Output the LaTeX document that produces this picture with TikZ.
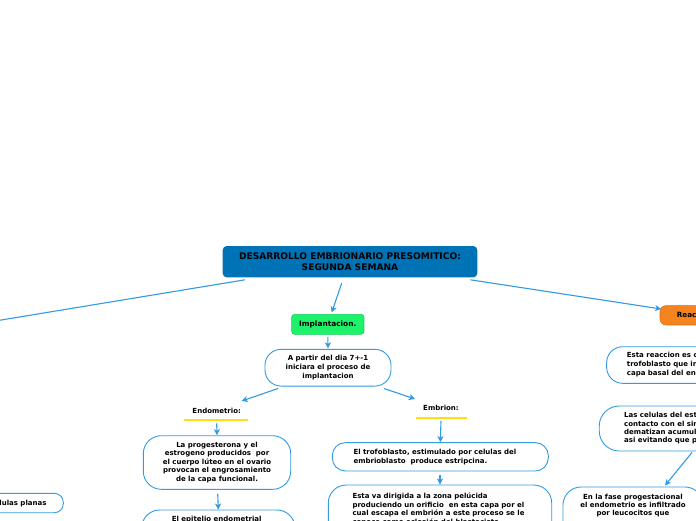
\documentclass[tikz,border=0pt]{standalone}
\usepackage{fontspec}
\setmainfont{DejaVu Sans}
\usetikzlibrary{arrows.meta}
\definecolor{lb}{RGB}{50,155,225}
\definecolor{rootblue}{RGB}{0,115,183}
\definecolor{greenbox}{RGB}{30,242,106}
\definecolor{greenedge}{RGB}{20,205,90}
\definecolor{orangebox}{RGB}{245,131,32}
\definecolor{orangeedge}{RGB}{215,110,20}
\definecolor{yel}{RGB}{255,222,20}
\tikzset{
  box/.style={draw=lb, line width=0.9pt, fill=white, inner sep=0pt},
  conn/.style={draw=lb, line width=1.1pt, -{Stealth[length=6pt,width=6pt,inset=1.5pt]}},
  plainconn/.style={draw=lb, line width=1.1pt},
  txt/.style={inner sep=0pt, font=\bfseries\fontsize{7}{8.6}\selectfont},
  uline/.style={draw=yel, line width=1.2pt},
}
\begin{document}
\begin{tikzpicture}[x=1pt,y=-1pt]
\useasboundingbox (0,0) rectangle (696,520);
\clip (0,0) rectangle (696,520);
\fill[white] (0,0) rectangle (696,520);

% root
\node[box, draw=none, fill=rootblue, rounded corners=4pt, minimum width=254.6pt, minimum height=31.3pt,
      align=center, font=\bfseries\fontsize{9.1}{11}\selectfont] (root) at (350,261.7)
      {DESARROLLO EMBRIONARIO PRESOMITICO:\\SEGUNDA SEMANA};

% implantacion
\node[box, draw=greenedge, line width=0.6pt, fill=greenbox, rounded corners=3pt, minimum width=72.3pt, minimum height=20pt,
      font=\bfseries\fontsize{7.4}{9}\selectfont] (impl) at (327.8,324.3) {Implantacion.};

\node[box, rounded corners=16pt, minimum width=126pt, minimum height=36.7pt, align=center,
      font=\bfseries\fontsize{7}{8.7}\selectfont] (apartir) at (328,367.7)
      {A partir del dia 7+-1\\iniciara el proceso de\\implantacion};

% Endometrio branch
\node[txt] (endot) at (216.7,410.7) {Endometrio:};
\draw[uline] (184.3,420) -- (248.3,420);
\node[box, rounded corners=18pt, minimum width=147.4pt, minimum height=53.6pt, align=center,
      font=\bfseries\fontsize{7}{8.5}\selectfont] (prog) at (217,462.5)
      {La progesterona y el\\estrogeno producidos\ \ por\\el cuerpo lúteo en el ovario\\provocan el engrosamiento\\de la capa funcional.};
\node[box, rounded corners=18pt, minimum width=153.3pt, minimum height=50pt] (epit) at (218.3,535) {};
\node[txt] (epitt) at (216.7,519.6) {El epitelio endometrial};

% Embrion branch
\node[txt] (embt) at (441,408.3) {Embrion:};
\draw[uline] (415.7,418) -- (466.7,418);
\node[box, rounded corners=13pt, minimum width=216pt, minimum height=28.3pt] (trof) at (440.3,456.8) {};
\node[txt, anchor=west, align=left, font=\bfseries\fontsize{7}{9.2}\selectfont] (troft) at (353.3,457.4)
      {El trofoblasto, estimulado por celulas del\\embrioblasto\ \ produce estripcina.};
\node[box, rounded corners=18pt, minimum width=223.4pt, minimum height=64pt] (esta) at (440,517) {};
\node[txt, anchor=west, align=left, font=\bfseries\fontsize{7}{8.6}\selectfont] (estat) at (352.3,508.6)
      {Esta va dirigida a la zona pelúcida\\produciendo un orificio\ \ en esta capa por el\\cual escapa el embrión a este proceso se le\\conoce como eclosión del blastocisto.};

% left box
\node[box, rounded corners=9pt, minimum width=123.3pt, minimum height=19.4pt] (planas) at (1.65,503) {};
\node[txt, anchor=east] (planast) at (46.7,503.3) {Celulas planas};

% right side
\node[box, draw=orangeedge, line width=0.6pt, fill=orangebox, rounded corners=6pt, minimum width=80pt, minimum height=19.3pt] (reac) at (700,315.3) {};
\node[txt, anchor=west, font=\bfseries\fontsize{7.2}{9}\selectfont] (react) at (676.7,315.3) {Reaccion decidual};

\node[box, rounded corners=16pt, minimum width=183.3pt, minimum height=36.6pt] (rdesc) at (698.3,365) {};
\node[txt, anchor=west, align=left] (rdesct) at (626.7,364.6)
      {Esta reaccion es causada por el\\trofoblasto que invade la\\capa basal del endometrio};

\node[box, rounded corners=20pt, minimum width=190.7pt, minimum height=45pt] (cel) at (694.6,428.5) {};
\node[txt, anchor=west, align=left, font=\bfseries\fontsize{7}{8.1}\selectfont] (celt) at (624,428.2)
      {Las celulas del estroma en\\contacto con el sincitio se\\dematizan acumulando\\asi evitando que penetre};

\node[box, rounded corners=18pt, minimum width=140pt, minimum height=60pt] (fase) at (633,517) {};
\node[txt, align=center, font=\bfseries\fontsize{7}{8.2}\selectfont] (faset) at (633,505.4)
      {En la fase progestacional\\el endometrio es infiltrado\\por leucocitos que};

% connectors
\coordinate (leftend) at (-100,336.7);
\draw[plainconn] ([xshift=-105pt,yshift=-2pt]root.south) -- (leftend);
\draw[conn] ([xshift=-8.3pt,yshift=-5.4pt]root.south) -- ([xshift=3.9pt,yshift=1.5pt]impl.north);
\draw[conn] ([yshift=-2.4pt]impl.south) -- ([yshift=0.5pt]apartir.north);
\draw[conn] ([xshift=-50pt,yshift=-2pt]apartir.south) -- ([xshift=25pt,yshift=9.7pt]endot.center);
\draw[conn] ([xshift=56pt,yshift=-2pt]apartir.south) -- ([xshift=-26pt,yshift=9.3pt]embt.center);
\draw[conn] ([yshift=-12.6pt]endot.center) -- (prog.north);
\draw[conn] ([xshift=0.7pt,yshift=-4pt]prog.south) -- (epit.north);
\draw[conn] ([yshift=-12.7pt]embt.center) -- (trof.north);
\draw[conn] ([xshift=-0.3pt,yshift=-4pt]trof.south) -- (esta.north);
\draw[conn] ([xshift=-7.3pt,yshift=-2pt]root.south east) -- ([xshift=1.5pt,yshift=6.3pt]reac.west);
\draw[conn] ([xshift=-2.6pt,yshift=-1pt]cel.south) -- ([xshift=32pt,yshift=1pt]fase.north);
\end{tikzpicture}
\end{document}
